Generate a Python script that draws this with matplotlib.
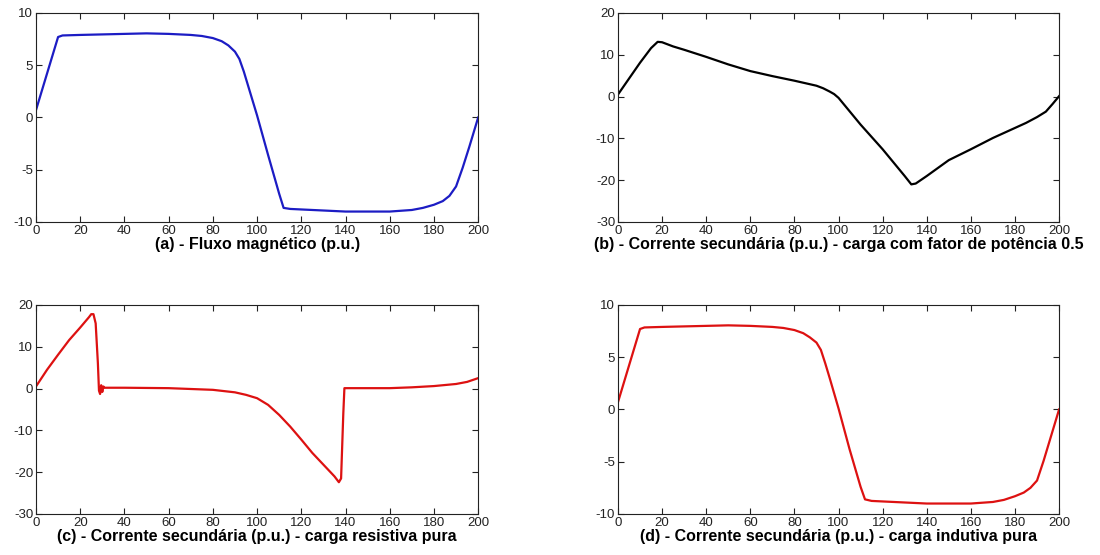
import matplotlib.pyplot as plt

plt.rcParams['font.family'] = ['Liberation Sans', 'DejaVu Sans']
plt.rcParams['axes.unicode_minus'] = False

# (a) fluxo magnético
xa = [0, 10, 12, 20, 30, 40, 50, 60, 70, 75, 80, 84, 87, 90, 92, 94, 96, 100, 105, 110, 112,
      115, 120, 130, 140, 150, 160, 170, 175, 180, 184, 187, 190, 193, 196, 200]
ya = [0.7, 7.7, 7.85, 7.9, 7.95, 8.0, 8.05, 8.0, 7.9, 7.8, 7.6, 7.3, 6.9, 6.3, 5.6, 4.4, 3.0, 0.2, -3.6, -7.3, -8.65,
      -8.75, -8.8, -8.9, -9.0, -9.0, -9.0, -8.85, -8.65, -8.35, -8.0, -7.5, -6.6, -4.8, -2.8, 0.0]

# (b) corrente secundária - fator de potência 0.5
xb = [0, 10, 15, 18, 20, 25, 30, 40, 50, 60, 70, 80, 90, 93, 96, 98, 100, 105, 110, 120,
      125, 130, 133, 135, 140, 150, 160, 170, 180, 185, 190, 194, 197, 200]
yb = [0.5, 8.1, 11.6, 13.1, 13.0, 12.0, 11.2, 9.5, 7.7, 6.1, 4.9, 3.8, 2.6, 2.0, 1.2, 0.6, -0.3, -3.5, -6.7, -12.6,
      -15.8, -19.0, -21.0, -20.8, -19.0, -15.2, -12.6, -9.9, -7.5, -6.3, -4.9, -3.6, -1.8, 0.1]

# (c) corrente secundária - carga resistiva pura
xc = [0, 5, 10, 15, 20, 24, 25, 26, 27, 28, 28.5, 29, 29.5, 30, 30.5, 31, 40, 60, 80, 90,
      95, 100, 105, 110, 115, 120, 125, 130, 135, 137, 138, 139, 139.5, 150, 160, 170,
      180, 190, 195, 200]
yc = [0.5, 4.5, 8.1, 11.6, 14.6, 17.1, 17.8, 17.8, 15.6, 6.1, -0.5, -1.3, 0.8, -0.8, 0.5, 0.2, 0.2, 0.1, -0.3, -0.9,
      -1.5, -2.3, -3.9, -6.3, -9.1, -12.2, -15.4, -18.2, -21.0, -22.4, -21.5, -6.0, 0.1, 0.1, 0.1, 0.3,
      0.6, 1.1, 1.6, 2.5]

# (d) corrente secundária - carga indutiva pura
xd = [0, 10, 12, 20, 30, 40, 50, 60, 70, 75, 80, 84, 87, 90, 92, 94, 96, 100, 105, 110, 112,
      115, 120, 130, 140, 150, 160, 170, 175, 180, 184, 187, 190, 193, 196, 200]
yd = [0.7, 7.7, 7.85, 7.9, 7.95, 8.0, 8.05, 8.0, 7.9, 7.8, 7.6, 7.3, 6.9, 6.4, 5.7, 4.4, 3.0, 0.1, -3.8, -7.4, -8.6,
      -8.75, -8.8, -8.9, -9.0, -9.0, -9.0, -8.85, -8.65, -8.3, -7.95, -7.5, -6.8, -4.9, -2.8, 0.0]

xticks = list(range(0, 201, 20))

panels = [
    (xa, ya, '#1c1cc4', (-10, 10), [-10, -5, 0, 5, 10], '(a) - Fluxo magnético (p.u.)',
     [0.0327, 0.600, 0.402, 0.3766]),
    (xb, yb, '#000000', (-30, 20), [-30, -20, -10, 0, 10, 20],
     '(b) - Corrente secundária (p.u.) - carga com fator de potência 0.5',
     [0.5618, 0.600, 0.401, 0.3766]),
    (xc, yc, '#dd1111', (-30, 20), [-30, -20, -10, 0, 10, 20],
     '(c) - Corrente secundária (p.u.) - carga resistiva pura',
     [0.0327, 0.0739, 0.402, 0.3766]),
    (xd, yd, '#dd1111', (-10, 10), [-10, -5, 0, 5, 10],
     '(d) - Corrente secundária (p.u.) - carga indutiva pura',
     [0.5618, 0.0739, 0.401, 0.3766]),
]

fig = plt.figure(figsize=(11, 5.55), dpi=100)
for x, y, color, ylim, yticks, label, rect in panels:
    ax = fig.add_axes(rect)
    ax.plot(x, y, color=color, lw=1.6)
    ax.set_xlim(0, 200)
    ax.set_ylim(*ylim)
    ax.set_xticks(xticks)
    ax.set_yticks(yticks)
    ax.tick_params(direction='in', length=4, width=0.8, top=True, right=True,
                   labelsize=9.5, pad=2, colors='#222222')
    for s in ax.spines.values():
        s.set_color('#222222')
        s.set_linewidth(0.8)
    ax.set_xlabel(label, fontsize=11.5, fontweight='bold', labelpad=0.5)

fig.savefig('out.png', dpi=100)
